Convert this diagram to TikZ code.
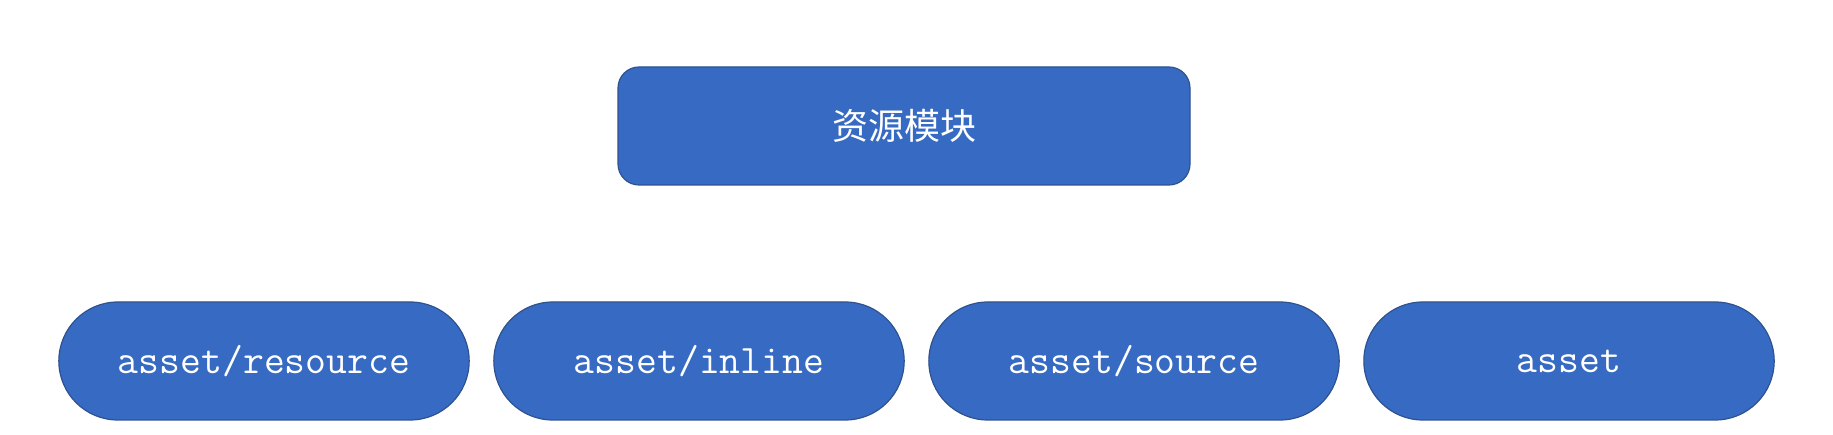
\documentclass[tikz,border=0pt]{standalone}
\usepackage{fontspec}
\newfontfamily\cjk{Noto Sans CJK SC}
\usetikzlibrary{shapes.misc}
\definecolor{boxfill}{HTML}{366AC3}
\definecolor{boxline}{HTML}{2F528F}
\tikzset{
  topbox/.style={draw=boxline, fill=boxfill, line width=1.2pt, rounded corners=21pt,
    minimum width=572pt, minimum height=118pt, text=white, font=\cjk\fontsize{36}{40}\selectfont},
  pillbox/.style={draw=boxline, fill=boxfill, line width=1.2pt, rounded rectangle,
    minimum width=417pt, minimum height=118pt, text=white, font=\ttfamily\fontsize{40.5}{44}\selectfont}
}
\begin{document}
\begin{tikzpicture}[x=1pt,y=1pt]
\def\pilly{74}
\def\pillgap{435}
\useasboundingbox (0,0) rectangle (1833,435);

\node[topbox] (module) at (904,309) {资源模块};

\node[pillbox] (resource) at (264,\pilly) {asset/resource};
\node[pillbox] (inline) at (264+\pillgap,\pilly) {asset/inline};
\node[pillbox] (source) at (264+2*\pillgap,\pilly) {asset/source};
\node[pillbox] (asset) at (264+3*\pillgap,\pilly) {asset};
\end{tikzpicture}
\end{document}
